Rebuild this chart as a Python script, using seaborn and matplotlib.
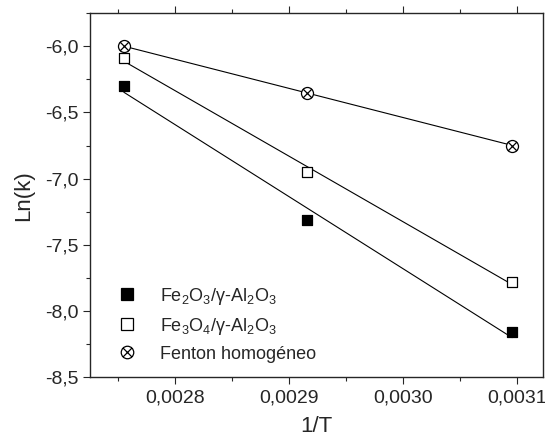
import matplotlib
matplotlib.use("Agg")
import matplotlib.pyplot as plt
import seaborn as sns
import numpy as np
import pandas as pd
from matplotlib.path import Path
from matplotlib.ticker import FuncFormatter, MultipleLocator
from matplotlib.lines import Line2D

inv_T = [0.0027548, 0.0029155, 0.0030960]
ln_k_fe2o3 = [-6.30, -7.31, -8.16]
ln_k_fe3o4 = [-6.09, -6.95, -7.78]
ln_k_fenton = [-6.00, -6.35, -6.75]
series_names = ["Fe$_2$O$_3$/\u03b3-Al$_2$O$_3$",
                "Fe$_3$O$_4$/\u03b3-Al$_2$O$_3$",
                "Fenton homog\u00e9neo"]

sns.set_style("ticks")
plt.rcParams["font.family"] = ["Liberation Sans", "DejaVu Sans"]
plt.rcParams["mathtext.fontset"] = "custom"
plt.rcParams["mathtext.rm"] = "Liberation Sans"
plt.rcParams["mathtext.it"] = "Liberation Sans:italic"

# circle with an x inside
circ = Path.unit_circle()
k = np.sqrt(0.5)
cross = Path([(-k, -k), (k, k), (-k, k), (k, -k)],
             [Path.MOVETO, Path.LINETO, Path.MOVETO, Path.LINETO])
circle_x = Path.make_compound_path(circ, cross)

styles = [("s", "black"), ("s", "white"), (circle_x, "white")]
series = [ln_k_fe2o3, ln_k_fe3o4, ln_k_fenton]

fig = plt.figure(figsize=(5.45, 4.41), dpi=100)
ax = fig.add_axes([0.165, 0.145, 0.831, 0.825])

handles = []
for name, y, (mk, fc) in zip(series_names, series, styles):
    slope, icpt = np.polyfit(inv_T, y, 1)
    fit = pd.DataFrame({"x": [inv_T[0], inv_T[-1]]})
    fit["y"] = slope * fit["x"] + icpt
    sns.lineplot(data=fit, x="x", y="y", ax=ax, color="black", lw=0.8)
    sns.scatterplot(x=inv_T, y=y, ax=ax, marker=mk, s=75 if mk != "s" else 58,
                    facecolor=fc, edgecolor="black", linewidth=0.9, zorder=3)
    handles.append(Line2D([], [], ls="none", marker=mk,
                          markersize=9 if mk != "s" else 8,
                          markerfacecolor=fc, markeredgecolor="black",
                          markeredgewidth=0.9, label=name))

ax.set_xlim(0.002725, 0.003123)
ax.set_ylim(-8.5, -5.75)
ax.xaxis.set_major_locator(MultipleLocator(0.0001))
ax.xaxis.set_minor_locator(MultipleLocator(0.00005))
ax.yaxis.set_major_locator(MultipleLocator(0.5))
ax.yaxis.set_minor_locator(MultipleLocator(0.25))
ax.xaxis.set_major_formatter(FuncFormatter(lambda v, p: f"{v:.4f}".replace(".", ",")))
ax.yaxis.set_major_formatter(FuncFormatter(lambda v, p: f"{v:.1f}".replace(".", ",")))
ax.tick_params(which="major", direction="out", length=5, width=0.8,
               labelsize=14, top=True, right=False)
ax.tick_params(which="minor", direction="out", length=3, width=0.8, top=True)
ax.tick_params(axis="x", which="both", labeltop=False, pad=4)
ax.tick_params(axis="y", which="both", pad=3)
for sp in ax.spines.values():
    sp.set_linewidth(1.0)
ax.set_xlabel("1/T", fontsize=16, labelpad=7)
ax.set_ylabel("Ln(k)", fontsize=16, labelpad=8)

ax.legend(handles=handles, loc="lower left", frameon=False, fontsize=13,
          handletextpad=0.85, labelspacing=0.5, borderaxespad=0.4,
          bbox_to_anchor=(0.01, 0.0))

fig.savefig("out.png", dpi=100)
plt.close(fig)
